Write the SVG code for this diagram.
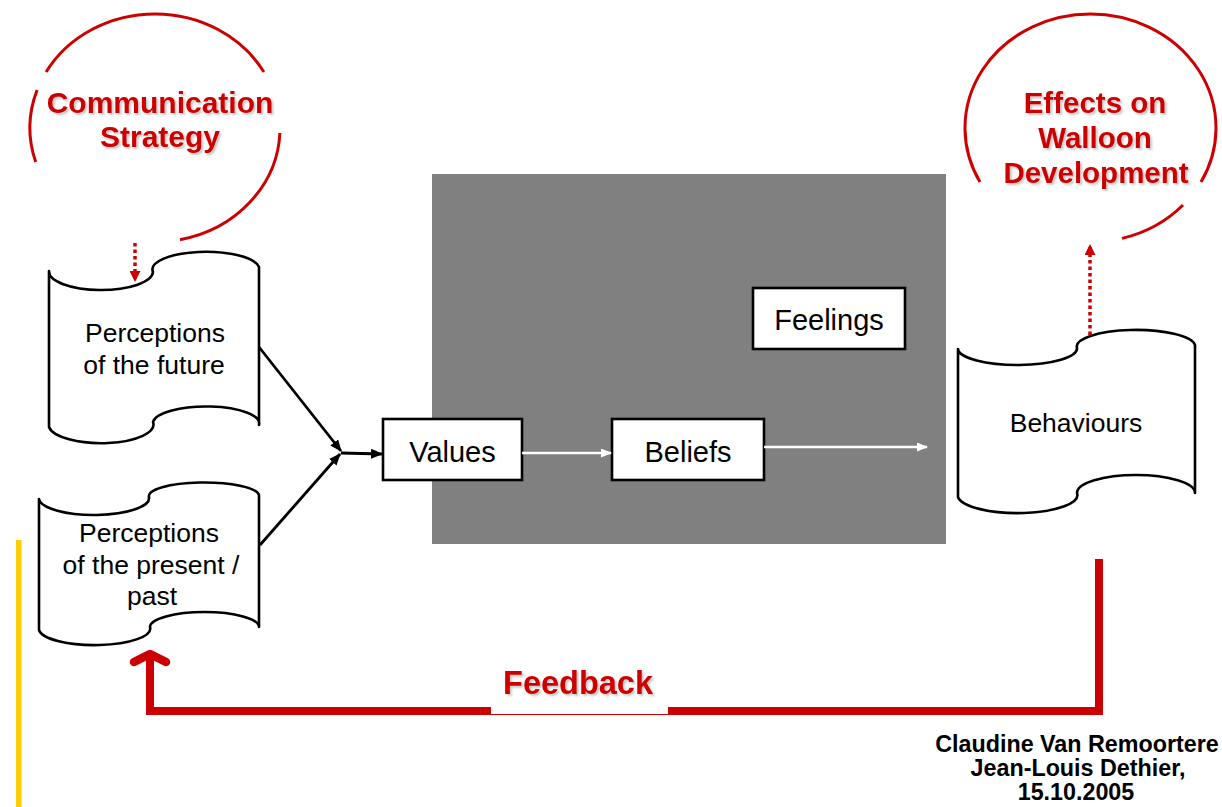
<svg xmlns="http://www.w3.org/2000/svg" width="1222" height="807" viewBox="0 0 1222 807">
  <style>
    .txt { font-family: "Liberation Sans", Arial, sans-serif; fill: #000; text-anchor: middle; }
    .scroll-txt { font-size: 26.5px; }
    .box-txt { font-size: 29px; }
    .red-title { font-family: "Liberation Sans", Arial, sans-serif; font-weight: bold; fill: #CC0000; text-anchor: middle; filter: url(#shadow); }
    .credit { font-family: "Liberation Sans", Arial, sans-serif; font-weight: bold; font-size: 23.3px; fill: #000; text-anchor: middle; }
    .scroll { fill: #fff; stroke: #000; stroke-width: 2.6; stroke-linejoin: round; }
    .box { fill: #fff; stroke: #000; stroke-width: 2.6; }
    .ring { fill: none; stroke: #CC0000; stroke-width: 3; }
    .link-black { fill: none; stroke: #000; stroke-width: 2.8; marker-end: url(#arrowBlack); }
    .link-white { fill: none; stroke: #fff; stroke-width: 2.5; marker-end: url(#arrowWhite); }
    .link-dotted { fill: none; stroke: #CC0000; stroke-width: 3.5; stroke-dasharray: 3.5 3; marker-end: url(#arrowRed); }
    .feedback { fill: none; stroke: #CC0000; stroke-width: 8; stroke-linejoin: miter; }
  </style>
  <defs>
    <filter id="shadow" x="-10%" y="-20%" width="130%" height="160%">
      <feDropShadow dx="2" dy="2" stdDeviation="1" flood-color="#000" flood-opacity="0.22"/>
    </filter>
    <marker id="arrowBlack" markerUnits="userSpaceOnUse" markerWidth="12" markerHeight="10" refX="11" refY="5" orient="auto">
      <path d="M0,0 L12,5 L0,10 z" fill="#000"/>
    </marker>
    <marker id="arrowWhite" markerUnits="userSpaceOnUse" markerWidth="11" markerHeight="9" refX="10" refY="4.5" orient="auto">
      <path d="M0,0 L11,4.5 L0,9 z" fill="#fff"/>
    </marker>
    <marker id="arrowRed" markerUnits="userSpaceOnUse" markerWidth="11" markerHeight="11" refX="10" refY="5.5" orient="auto">
      <path d="M0,0 L11,5.5 L0,11 z" fill="#CC0000"/>
    </marker>
  </defs>

  <rect width="1222" height="807" fill="#fff"/>

  <!-- grey background panel -->
  <rect id="panel" x="432" y="174" width="514" height="370" fill="#808080"/>

  <!-- yellow margin rule -->
  <rect id="margin-rule" x="16" y="540" width="5.5" height="267" fill="#FFCC00"/>

  <!-- Communication Strategy bubble -->
  <g id="communication-strategy">
    <path class="ring" d="M46.1,72 A125,114 0 0 1 263.9,72"/>
    <path class="ring" d="M37.1,90 A125,114 0 0 0 35.7,162"/>
    <path class="ring" d="M279.9,133 A125,114 0 0 1 180,239.7"/>
    <text class="red-title" font-size="30" x="160" y="113">Communication</text>
    <text class="red-title" font-size="30" x="160" y="147">Strategy</text>
  </g>

  <!-- Effects on Walloon Development bubble -->
  <g id="effects">
    <path class="ring" d="M980,182 A125.5,114 0 1 1 1201,182"/>
    <path class="ring" d="M1183,205 A125.5,114 0 0 1 1122,238.4"/>
    <text class="red-title" font-size="29.5" x="1095" y="113">Effects on</text>
    <text class="red-title" font-size="29.5" x="1095" y="148">Walloon</text>
    <text class="red-title" font-size="29.5" x="1096" y="183">Development</text>
  </g>

  <!-- Perceptions of the future -->
  <g id="perceptions-future">
    <path class="scroll" d="M49,271 A52,18.5 0 0 0 153,272 A53,17.5 0 0 1 259,267 L259,425 A53,17 0 0 0 153,422 A52,18.5 0 0 1 49,427 Z"/>
    <text class="txt scroll-txt" x="155" y="342">Perceptions</text>
    <text class="txt scroll-txt" x="154" y="374">of the future</text>
  </g>

  <!-- Perceptions of the present / past -->
  <g id="perceptions-present">
    <path class="scroll" d="M39,499 A55,17 0 0 0 149,497 A55,13.5 0 0 1 259,495 L259,627 A54.5,15 0 0 0 150,627 A55.5,16.5 0 0 1 39,630 Z"/>
    <text class="txt scroll-txt" x="149" y="542">Perceptions</text>
    <text class="txt scroll-txt" x="151" y="574">of the present /</text>
    <text class="txt scroll-txt" x="152" y="605">past</text>
  </g>

  <!-- Behaviours -->
  <g id="behaviours">
    <path class="scroll" d="M958,349 A59.5,16.5 0 0 0 1077,348 A59,16.5 0 0 1 1195,345 L1195,493 A59,18 0 0 0 1077,493 A59.5,18 0 0 1 958,497 Z"/>
    <text class="txt scroll-txt" x="1076" y="432">Behaviours</text>
  </g>

  <!-- Values -->
  <g id="values">
    <rect class="box" x="383" y="419" width="139" height="61"/>
    <text class="txt box-txt" x="452.5" y="462">Values</text>
  </g>

  <!-- Beliefs -->
  <g id="beliefs">
    <rect class="box" x="612" y="419" width="152" height="61"/>
    <text class="txt box-txt" x="688" y="462">Beliefs</text>
  </g>

  <!-- Feelings -->
  <g id="feelings">
    <rect class="box" x="753" y="288" width="152" height="61"/>
    <text class="txt box-txt" x="829" y="330">Feelings</text>
  </g>

  <!-- connectors -->
  <g id="connectors">
    <path class="link-black" d="M259,347 L341,451"/>
    <path class="link-black" d="M260,545 L340,454"/>
    <path class="link-black" d="M341,453 L382,454"/>
    <path class="link-white" d="M522,453 L611,453"/>
    <path class="link-white" d="M764,447 L927,447"/>
    <path class="link-dotted" d="M135,243 L135,281"/>
    <path class="link-dotted" d="M1090,335 L1090,245"/>
    <!-- feedback loop -->
    <path class="feedback" d="M1099,559 L1099,711 L150,711 L150,656"/>
    <polyline points="134,662 150,654 166,662" fill="none" stroke="#CC0000" stroke-width="8.5" stroke-linecap="round" stroke-linejoin="round"/>
  </g>

  <!-- Feedback label -->
  <g id="feedback-label">
    <rect x="491" y="706" width="177" height="8" fill="#fff"/>
    <text class="red-title" font-size="32.5" x="578" y="694">Feedback</text>
  </g>

  <!-- credits -->
  <g id="credits">
    <text class="credit" x="1077" y="752">Claudine Van Remoortere</text>
    <text class="credit" x="1078" y="776">Jean-Louis Dethier,</text>
    <text class="credit" x="1076" y="800">15.10.2005</text>
  </g>
</svg>
